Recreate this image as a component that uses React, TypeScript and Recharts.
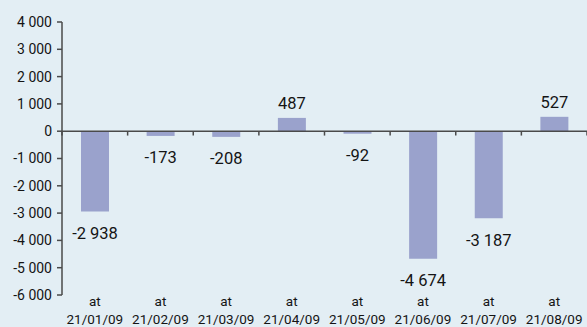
import { Bar, BarChart, LabelList, ReferenceLine, XAxis, YAxis } from "recharts";

const dates = ["21/01/09", "21/02/09", "21/03/09", "21/04/09", "21/05/09", "21/06/09", "21/07/09", "21/08/09"];
const changes = [-2938, -173, -208, 487, -92, -4674, -3187, 527];
const yTicks = [-6000, -5000, -4000, -3000, -2000, -1000, 0, 1000, 2000, 3000, 4000];

const data = dates.map((d, i) => ({ date: d, value: changes[i] }));

const ink = "#141414";
const axisColor = "#4a4a4a";
const font = "Roboto, 'Noto Sans', sans-serif";

const fmt = (v: number) => {
  const s = String(Math.abs(v)).replace(/\B(?=(\d{3})+(?!\d))/g, " ");
  return v < 0 ? "-" + s : s;
};

function DateTick(props: any) {
  const { x, y, payload } = props;
  return (
    <text x={x} y={y} textAnchor="middle" fill={ink} fontSize={13.5} fontFamily={font}>
      <tspan x={x} dy="0.71em">at</tspan>
      <tspan x={x} dy={18}>{payload.value}</tspan>
    </text>
  );
}

function ValueLabel(props: any) {
  const { x, y, width, height, value } = props;
  const top = Math.min(y, y + height);
  const bottom = Math.max(y, y + height);
  const cy = value >= 0 ? top - 14 : bottom + 22;
  return (
    <text
      x={x + width / 2}
      y={cy}
      textAnchor="middle"
      dominantBaseline="central"
      fill={ink}
      fontSize={16.5}
      fontFamily={font}
    >
      {fmt(value)}
    </text>
  );
}

export default function App() {
  return (
    <div style={{ position: "absolute", left: 0, top: 0, width: 587, height: 327, background: "#e3eef4" }}>
      <BarChart width={587} height={327} data={data} margin={{ top: 22, right: 0, bottom: 0, left: 0 }}>
        <XAxis
          dataKey="date"
          height={32}
          axisLine={false}
          tickLine={false}
          tickSize={0}
          tickMargin={1}
          interval={0}
          tick={<DateTick />}
        />
        <YAxis
          width={62}
          domain={[-6000, 4000]}
          ticks={yTicks}
          interval={0}
          tickFormatter={fmt}
          tickSize={5}
          tickMargin={5}
          axisLine={{ stroke: axisColor, strokeWidth: 1.5 }}
          tickLine={{ stroke: axisColor, strokeWidth: 1.5 }}
          tick={{ fill: ink, fontSize: 14, fontFamily: font }}
        />
        <Bar dataKey="value" fill="#9aa2cc" barSize={28} isAnimationActive={false}>
          <LabelList dataKey="value" content={<ValueLabel />} />
        </Bar>
        <ReferenceLine y={0} stroke={axisColor} strokeWidth={1.5} />
        {dates.map((d) => (
          <ReferenceLine
            key={d}
            position="start"
            segment={[{ x: d, y: 0 }, { x: d, y: -160 }]}
            stroke={axisColor}
            strokeWidth={1.5}
          />
        ))}
        <ReferenceLine
          position="end"
          segment={[{ x: dates[dates.length - 1], y: 0 }, { x: dates[dates.length - 1], y: -160 }]}
          stroke={axisColor}
          strokeWidth={1.5}
        />
      </BarChart>
    </div>
  );
}
